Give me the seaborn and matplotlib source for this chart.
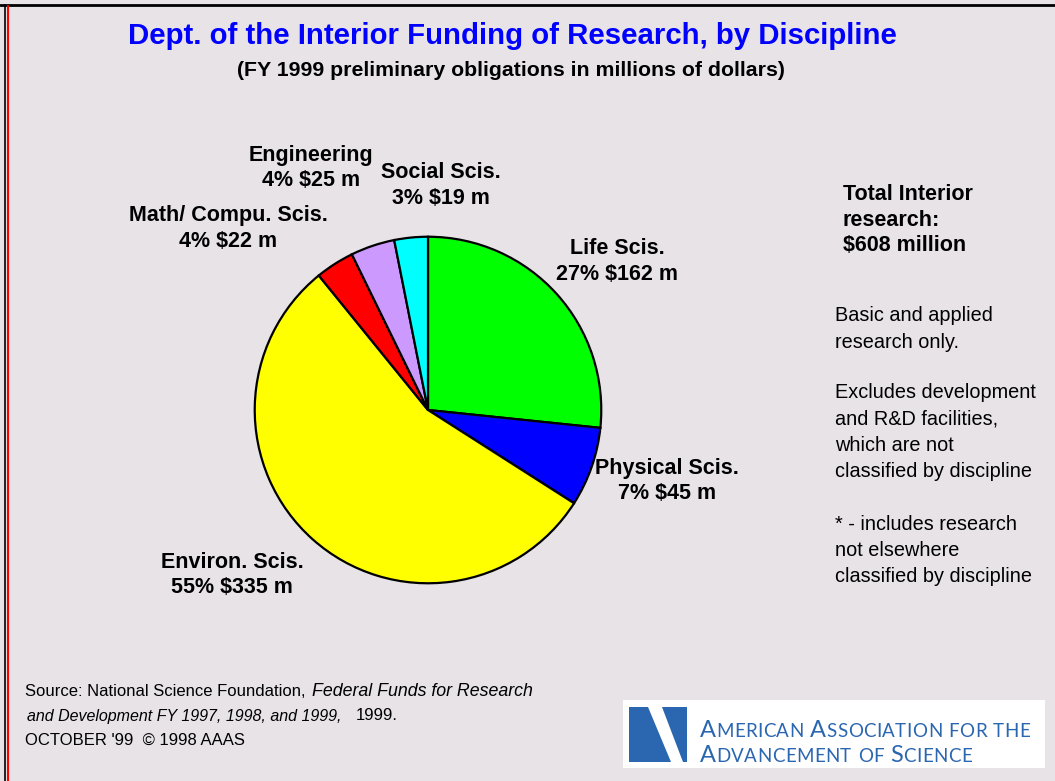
import matplotlib
matplotlib.use("Agg")
import matplotlib.pyplot as plt
from matplotlib.lines import Line2D
from matplotlib.patches import Rectangle, Polygon
import seaborn as sns

# ==========================================
# DATA
# ==========================================
disciplines = ["Life Scis.", "Physical Scis.", "Environ. Scis.",
               "Math/ Compu. Scis.", "Engineering", "Social Scis."]
funding = [162, 45, 335, 22, 25, 19]          # millions of dollars
percents = [27, 7, 55, 4, 4, 3]
slice_colors = ["#00ff00", "#0000ff", "#ffff00", "#ff0000", "#cc99ff", "#00ffff"]

# label anchor (pixel x, pixel y of first line) for each slice
label_pos = [(617, 249), (667, 468), (232, 562), (228, 216), (311, 155), (441, 173)]

W, H = 1055, 781
BG = "#e7e3e7"

sns.set_theme(style="white")
plt.rcParams["font.family"] = ["Liberation Sans", "DejaVu Sans"]


def fx(px):
    return px / W


def fy(py):
    return 1 - py / H


def put_lines(fig, x, y0, lines, step, ha="left", **kw):
    # one text per line so the line pitch matches the reference
    for i, line in enumerate(lines):
        fig.text(fx(x), fy(y0 + i * step), line, ha=ha, va="center", **kw)


fig = plt.figure(figsize=(W / 100, H / 100), dpi=100)
fig.patch.set_facecolor(BG)

# pie axes: centre (428, 410) px, radius 175 px
cx, cy, r = 428, 410, 175
ax = fig.add_axes([fx(cx - r), fy(cy + r), 2 * r / W, 2 * r / H])
ax.pie(funding, colors=slice_colors, startangle=90, counterclock=False,
       wedgeprops=dict(edgecolor="black", linewidth=1.6))
ax.set_xlim(-1.01, 1.01)
ax.set_ylim(-1.01, 1.01)
ax.set_aspect("equal")
ax.axis("off")

# slice labels
for name, val, pct, (lx, ly) in zip(disciplines, funding, percents, label_pos):
    put_lines(fig, lx, ly, [name, f"{pct}% ${val} m"], 25.5, ha="center",
              fontsize=15.5, fontweight="bold", color="black")

# titles
fig.text(fx(512), fy(36), "Dept. of the Interior Funding of Research, by Discipline",
         ha="center", va="center", fontsize=21.2, fontweight="bold", color="#0000ff")
fig.text(fx(511), fy(71), "(FY 1999 preliminary obligations in millions of dollars)",
         ha="center", va="center", fontsize=15.3, fontweight="bold", color="black")

# right side notes
put_lines(fig, 843, 195, ["Total Interior", "research:", "$608 million"], 25.5,
          fontsize=15.5, fontweight="bold", color="black")
put_lines(fig, 835, 316, ["Basic and applied", "research only."], 26,
          fontsize=14.3, color="black")
put_lines(fig, 835, 393, ["Excludes development", "and R&D facilities,",
                          "which are not", "classified by discipline"], 26.3,
          fontsize=14.3, color="black")
put_lines(fig, 835, 524, ["* - includes research", "not elsewhere",
                          "classified by discipline"], 26.5,
          fontsize=14.3, color="black")

# source
fig.text(fx(25), fy(692), "Source: National Science Foundation,", ha="left", va="center",
         fontsize=12, color="black")
fig.text(fx(312), fy(692), "Federal Funds for Research", ha="left", va="center",
         fontsize=12.8, style="italic", color="black")
fig.text(fx(27), fy(716), "and Development FY 1997, 1998, and 1999,", ha="left", va="center",
         fontsize=11.5, style="italic", color="black")
fig.text(fx(356), fy(716), "1999.", ha="left", va="center", fontsize=12, color="black")
fig.text(fx(25), fy(740), "OCTOBER '99  \u00a9 1998 AAAS", ha="left", va="center",
         fontsize=12, color="black")

# AAAS logo box
logo_blue = "#2b66b0"
fig.add_artist(Rectangle((fx(623), fy(768)), fx(1045) - fx(623), fy(700) - fy(768),
                         transform=fig.transFigure, facecolor="white", edgecolor="none"))
fig.add_artist(Polygon([(fx(629), fy(762)), (fx(629), fy(707)), (fx(648), fy(707)),
                        (fx(671), fy(762))],
                       closed=True, transform=fig.transFigure, facecolor=logo_blue,
                       edgecolor="none"))
fig.add_artist(Polygon([(fx(662), fy(707)), (fx(687), fy(707)), (fx(687), fy(762)),
                        (fx(683), fy(762))],
                       closed=True, transform=fig.transFigure, facecolor=logo_blue,
                       edgecolor="none"))

# small caps wordmark, built piece by piece
renderer = fig.canvas.get_renderer()
logo_font = ["Lato", "DejaVu Sans"]


def small_caps(x_px, y_px, words, big=17, small=13.5, gap=6):
    x = x_px
    for word in words:
        for j, ch in enumerate(word):
            cap = j == 0 and word[0].isupper()
            t = fig.text(fx(x), fy(y_px), ch.upper(), ha="left", va="baseline",
                         fontsize=big if cap else small, color=logo_blue, family=logo_font)
            x += t.get_window_extent(renderer).width + 0.4
        x += gap


small_caps(700, 737, ["American", "Association", "for", "the"])
small_caps(700, 762, ["Advancement", "of", "Science"])

# frame lines
fig.add_artist(Line2D([0, 1], [fy(5), fy(5)], transform=fig.transFigure,
                      color="black", linewidth=2))
fig.add_artist(Line2D([fx(5), fx(5)], [0, fy(5)], transform=fig.transFigure,
                      color="black", linewidth=1.2))
fig.add_artist(Line2D([fx(7.5), fx(7.5)], [0, fy(6)], transform=fig.transFigure,
                      color="red", linewidth=1.5))

fig.savefig("out.png", dpi=100, facecolor=BG)
